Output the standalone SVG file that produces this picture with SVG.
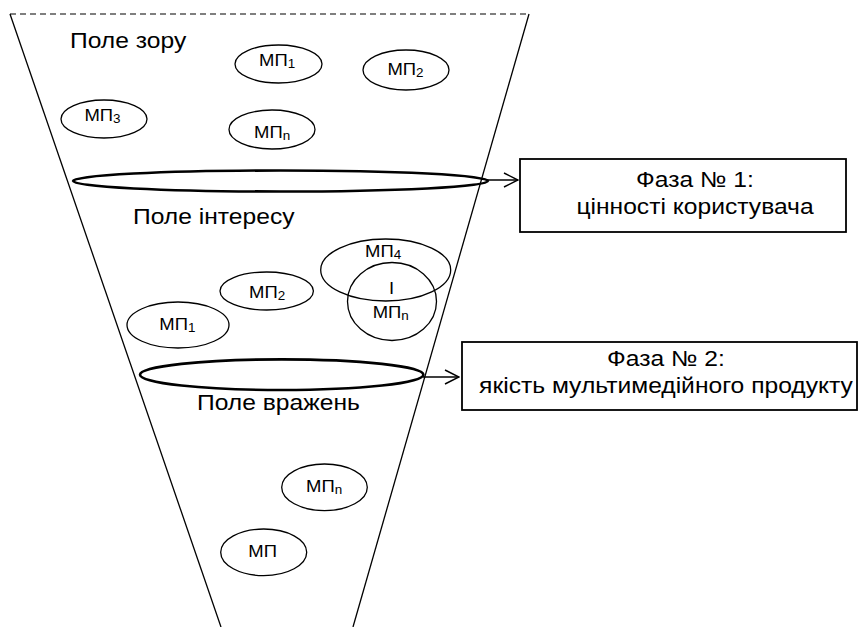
<svg xmlns="http://www.w3.org/2000/svg" width="859" height="627" viewBox="0 0 859 627">
<defs>
<style>
.ln{stroke:#000;stroke-width:1.3;fill:none}
.dash{stroke:#000;stroke-width:1.2;stroke-dasharray:6,4;fill:none}
.el{stroke:#000;stroke-width:1.3;fill:none}
.big{stroke:#000;stroke-width:2.6;fill:none}
.box{stroke:#000;stroke-width:1.8;fill:#fff}
.conn{stroke:#000;stroke-width:1.5;fill:none}
text{font-family:"Liberation Sans",Arial,sans-serif;fill:#000}
.lbl{font-size:22px}
.mp{font-size:16.5px}
.sub{font-size:12px}
.c{text-anchor:middle}
</style>
<marker id="arr" markerUnits="userSpaceOnUse" markerWidth="16" markerHeight="16" refX="15" refY="8" orient="auto">
<path d="M1,1 L15,8 L1,15" fill="none" stroke="#000" stroke-width="1.5"/>
</marker>
</defs>
<rect width="859" height="627" fill="#fff"/>

<g id="funnel">
<line class="dash" x1="10" y1="14" x2="529" y2="14"/>
<line class="ln" x1="10" y1="14" x2="221" y2="627"/>
<line class="ln" x1="529" y1="14" x2="353" y2="627"/>
</g>

<g id="field-labels">
<text class="lbl" transform="matrix(1.12 0 0 1 70 47.5)">Поле зору</text>
<text class="lbl" transform="matrix(1.12 0 0 1 133 223.5)">Поле інтересу</text>
<text class="lbl" transform="matrix(1.12 0 0 1 197 410)">Поле вражень</text>
</g>

<g id="top-mp1"><ellipse class="el" cx="278.5" cy="64" rx="43.5" ry="19"/><text class="mp" transform="matrix(1.12 0 0 1 259 66)">МП<tspan class="sub" dy="2">1</tspan></text></g>
<g id="top-mp2"><ellipse class="el" cx="406" cy="70" rx="43" ry="20"/><text class="mp" transform="matrix(1.12 0 0 1 387.4 75)">МП<tspan class="sub" dy="2">2</tspan></text></g>
<g id="top-mp3"><ellipse class="el" cx="104" cy="119" rx="43" ry="19"/><text class="mp" transform="matrix(1.12 0 0 1 84.4 121)">МП<tspan class="sub" dy="2">3</tspan></text></g>
<g id="top-mpn"><ellipse class="el" cx="272" cy="129.5" rx="43" ry="19.5"/><text class="mp" transform="matrix(1.12 0 0 1 254 138)">МП<tspan class="sub" dy="2">n</tspan></text></g>

<g id="ring-1"><ellipse class="big" cx="280.5" cy="181" rx="207.5" ry="10.5"/></g>

<g id="mid-mp4"><ellipse class="el" cx="385.7" cy="270" rx="65" ry="31"/><text class="mp" transform="matrix(1.12 0 0 1 365 257)">МП<tspan class="sub" dy="2">4</tspan></text></g>
<g id="mid-mpn"><ellipse class="el" cx="392" cy="301.5" rx="44.5" ry="39"/><text class="mp c" transform="matrix(1.12 0 0 1 391.5 294)">I</text><text class="mp" transform="matrix(1.12 0 0 1 372.7 318)">МП<tspan class="sub" dy="2">n</tspan></text></g>
<g id="mid-mp2"><ellipse class="el" cx="266.7" cy="291" rx="46.7" ry="19"/><text class="mp" transform="matrix(1.12 0 0 1 249 298)">МП<tspan class="sub" dy="2">2</tspan></text></g>
<g id="mid-mp1"><ellipse class="el" cx="178" cy="325" rx="51" ry="23"/><text class="mp" transform="matrix(1.12 0 0 1 159.3 330)">МП<tspan class="sub" dy="2">1</tspan></text></g>

<g id="ring-2"><ellipse class="big" cx="281.7" cy="374.7" rx="141.7" ry="15.3"/></g>

<g id="bot-mpn"><ellipse class="el" cx="324.5" cy="487.3" rx="42.8" ry="23.3"/><text class="mp" transform="matrix(1.12 0 0 1 306 492)">МП<tspan class="sub" dy="2">n</tspan></text></g>
<g id="bot-mp"><ellipse class="el" cx="263.7" cy="552.3" rx="43" ry="23.3"/><text class="mp" transform="matrix(1.12 0 0 1 248.3 557)">МП</text></g>

<g id="phase-1">
<rect class="box" x="520" y="159" width="326" height="73"/>
<text class="lbl c" transform="matrix(1.12 0 0 1 695 186.5)">Фаза № 1:</text>
<text class="lbl c" transform="matrix(1.12 0 0 1 695 213.5)">цінності користувача</text>
</g>
<g id="phase-2">
<rect class="box" x="462" y="342" width="395" height="68"/>
<text class="lbl c" transform="matrix(1.12 0 0 1 666 366)">Фаза № 2:</text>
<text class="lbl c" transform="matrix(1.12 0 0 1 666 393)">якість мультимедійного продукту</text>
</g>

<g id="connectors">
<line class="conn" x1="487" y1="180" x2="518" y2="180" marker-end="url(#arr)"/>
<line class="conn" x1="423" y1="377" x2="459" y2="377" marker-end="url(#arr)"/>
</g>
</svg>
